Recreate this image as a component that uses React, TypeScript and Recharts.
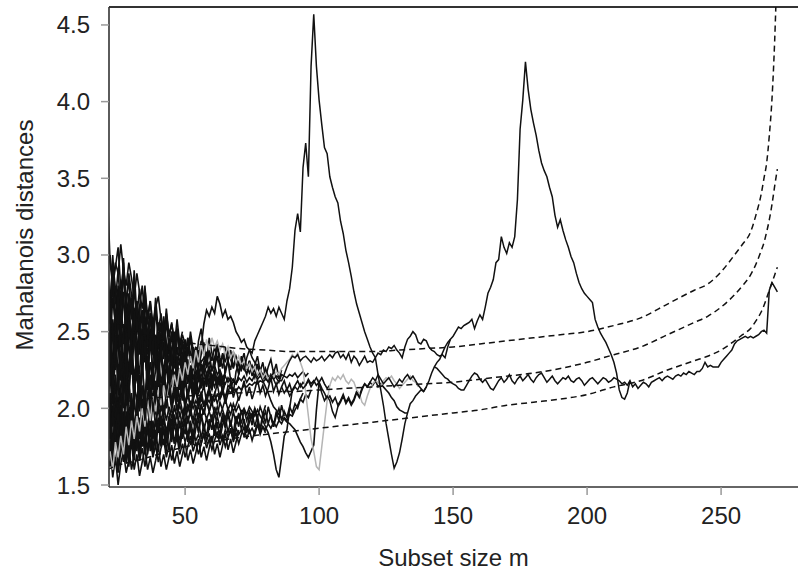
import React from "react";
import { LineChart, Line, XAxis, YAxis, ReferenceLine, Label } from "recharts";

// subset sizes start at m = 21 for every run that begins at the left edge
const M_START = 21;
const xTicks = [50, 100, 150, 200, 250];
const yTicks = [1.5, 2.0, 2.5, 3.0, 3.5, 4.0, 4.5];

// simulation envelopes (dashed)
const envM = [21, 25, 30, 40, 50, 60, 70, 80, 90, 100, 110, 120, 130, 140, 150, 160, 170, 180, 190, 200, 210, 220, 230, 240, 245, 250, 255, 258, 261, 263, 265, 266, 267, 268, 269, 270, 271];
const envLow = [1.6, 1.63, 1.65, 1.7, 1.75, 1.78, 1.81, 1.83, 1.85, 1.87, 1.89, 1.91, 1.93, 1.95, 1.97, 1.99, 2.02, 2.04, 2.06, 2.09, 2.14, 2.18, 2.25, 2.31, 2.34, 2.38, 2.44, 2.48, 2.52, 2.57, 2.63, 2.67, 2.72, 2.77, 2.82, 2.87, 2.92];
const envMid = [2.02, 2.04, 2.05, 2.07, 2.08, 2.09, 2.1, 2.11, 2.11, 2.12, 2.13, 2.14, 2.15, 2.16, 2.17, 2.19, 2.21, 2.23, 2.26, 2.3, 2.35, 2.4, 2.48, 2.56, 2.6, 2.66, 2.74, 2.8, 2.87, 2.94, 3.03, 3.08, 3.15, 3.23, 3.33, 3.45, 3.56];
const envHigh = [2.62, 2.55, 2.5, 2.46, 2.43, 2.41, 2.39, 2.38, 2.37, 2.37, 2.37, 2.37, 2.38, 2.39, 2.4, 2.42, 2.44, 2.46, 2.48, 2.5, 2.54, 2.59, 2.68, 2.77, 2.81, 2.89, 3.0, 3.07, 3.15, 3.26, 3.4, 3.5, 3.6, 3.78, 4.02, 4.4, 4.95];

// early runs of the search, all starting at m = 21
const run01 = [3.43, 2.95, 2.8, 2.92, 3.05, 2.78, 2.85, 2.7, 2.88, 2.74, 2.62, 2.7, 2.55, 2.64, 2.5, 2.58, 2.44, 2.52, 2.4, 2.47, 2.36, 2.42, 2.33, 2.38, 2.3, 2.35, 2.27, 2.31, 2.24, 2.28, 2.22, 2.26, 2.2, 2.24, 2.18, 2.22, 2.19, 2.21, 2.17, 2.2];
const run02 = [2.9, 3.0, 2.82, 2.95, 2.88, 3.07, 2.9, 2.8, 2.95, 2.85, 2.72, 2.88, 2.76, 2.65, 2.78, 2.6, 2.7, 2.55, 2.66, 2.73, 2.58, 2.5, 2.62, 2.48, 2.55, 2.45, 2.52, 2.4, 2.48, 2.42, 2.36, 2.44, 2.38, 2.31, 2.36, 2.3, 2.33, 2.27, 2.3, 2.25, 2.28, 2.22, 2.25, 2.2, 2.23];
const run03 = [2.75, 2.62, 2.85, 2.7, 2.58, 2.76, 2.92, 2.68, 2.55, 2.72, 2.6, 2.48, 2.66, 2.8, 2.58, 2.47, 2.62, 2.52, 2.4, 2.56, 2.45, 2.6, 2.42, 2.35, 2.5, 2.4, 2.48, 2.36, 2.44, 2.32, 2.4, 2.3, 2.36, 2.28, 2.33, 2.25, 2.3, 2.22, 2.27, 2.2, 2.24, 2.18, 2.22, 2.19, 2.21, 2.17, 2.2, 2.18, 2.16, 2.19];
const run04 = [2.55, 2.7, 2.48, 2.62, 2.78, 2.55, 2.42, 2.65, 2.5, 2.38, 2.58, 2.45, 2.35, 2.52, 2.4, 2.3, 2.46, 2.36, 2.28, 2.42, 2.33, 2.25, 2.38, 2.3, 2.22, 2.34, 2.26, 2.2, 2.3, 2.24, 2.18, 2.28, 2.21, 2.16, 2.25, 2.19, 2.14, 2.22, 2.17, 2.12, 2.2, 2.15, 2.18, 2.13, 2.17];
const run05 = [2.4, 2.25, 2.5, 2.35, 2.6, 2.42, 2.28, 2.55, 2.38, 2.22, 2.46, 2.62, 2.4, 2.3, 2.48, 2.35, 2.52, 2.38, 2.26, 2.44, 2.56, 2.4, 2.3, 2.46, 2.36, 2.5, 2.38, 2.28, 2.42, 2.34, 2.46, 2.36, 2.3, 2.4, 2.32, 2.44, 2.35, 2.28, 2.38, 2.31, 2.4, 2.33, 2.27, 2.36, 2.3, 2.38, 2.32, 2.26, 2.34, 2.29, 2.25, 2.31, 2.27, 2.23, 2.28, 2.24, 2.21, 2.25, 2.22, 2.19];
const run06 = [2.2, 2.38, 2.12, 2.3, 2.45, 2.18, 2.35, 2.08, 2.28, 2.42, 2.15, 2.32, 2.05, 2.25, 2.38, 2.12, 2.3, 2.2, 2.08, 2.26, 2.36, 2.14, 2.28, 2.1, 2.22, 2.34, 2.16, 2.26, 2.12, 2.24, 2.3, 2.14, 2.22, 2.1, 2.2, 2.28, 2.15, 2.22, 2.12, 2.19, 2.25, 2.14, 2.2, 2.1, 2.17];
const run07 = [2.05, 1.9, 2.18, 2.0, 2.25, 1.95, 2.12, 2.3, 2.02, 1.92, 2.15, 2.05, 2.22, 1.98, 2.1, 2.2, 1.95, 2.08, 2.18, 2.0, 2.12, 1.96, 2.06, 2.16, 2.02, 2.1, 1.98, 2.08, 2.14, 2.03, 2.1, 2.0, 2.07, 2.13, 2.04, 2.09, 2.01, 2.07, 2.12, 2.05];
const run08 = [1.85, 2.0, 1.78, 1.95, 2.08, 1.82, 1.98, 1.75, 1.92, 2.05, 1.85, 1.96, 1.8, 1.9, 2.02, 1.86, 1.95, 1.82, 1.92, 1.99, 1.88, 1.95, 1.85, 1.93, 2.0, 1.9, 1.96, 1.87, 1.94, 2.01, 1.92, 1.97, 1.9, 1.96, 2.02, 1.94, 1.99, 1.93, 1.98, 2.04, 1.96, 2.01, 1.95, 2.0, 2.06, 1.99, 2.03, 1.98, 2.02, 2.07];
const run09 = [1.7, 1.62, 1.78, 1.66, 1.58, 1.72, 1.82, 1.64, 1.75, 1.6, 1.7, 1.8, 1.66, 1.74, 1.62, 1.72, 1.8, 1.68, 1.76, 1.65, 1.74, 1.8, 1.68, 1.76, 1.66, 1.74, 1.81, 1.7, 1.77, 1.68, 1.75, 1.82, 1.72, 1.78, 1.7, 1.77, 1.83, 1.74, 1.8, 1.73, 1.79, 1.85, 1.76, 1.82, 1.75, 1.81, 1.87, 1.78, 1.84, 1.77, 1.83, 1.88, 1.8, 1.86, 1.79, 1.85, 1.9, 1.83, 1.88, 1.84];
const run10 = [1.62, 1.75, 1.55, 1.68, 1.5, 1.64, 1.72, 1.58, 1.66, 1.78, 1.6, 1.7, 1.56, 1.65, 1.74, 1.6, 1.68, 1.58, 1.66, 1.75, 1.62, 1.7, 1.6, 1.68, 1.76, 1.64, 1.72, 1.62, 1.7, 1.78, 1.66, 1.73, 1.64, 1.71, 1.8, 1.68, 1.75, 1.66, 1.74, 1.82, 1.7, 1.77, 1.68, 1.76, 1.84, 1.73, 1.8, 1.71, 1.78, 1.86];
const run11 = [2.6, 2.45, 2.72, 2.55, 2.4, 2.65, 2.5, 2.35, 2.58, 2.68, 2.45, 2.32, 2.55, 2.42, 2.3, 2.5, 2.6, 2.38, 2.48, 2.3, 2.45, 2.55, 2.36, 2.44, 2.28, 2.4, 2.5, 2.34, 2.42, 2.27, 2.38, 2.46, 2.32, 2.4, 2.26, 2.35, 2.43, 2.3, 2.37, 2.24, 2.33, 2.4, 2.28, 2.35, 2.23, 2.31, 2.38, 2.27, 2.33, 2.22, 2.3, 2.36, 2.25, 2.31, 2.21, 2.28, 2.34, 2.24, 2.3, 2.2, 2.27, 2.32, 2.23, 2.29, 2.19, 2.25];
const run12 = [2.15, 2.3, 2.05, 2.22, 1.98, 2.12, 2.28, 2.02, 2.18, 1.95, 2.1, 2.25, 2.0, 2.15, 1.96, 2.08, 2.22, 2.02, 2.14, 1.98, 2.1, 2.2, 2.04, 2.12, 1.99, 2.08, 2.18, 2.03, 2.11, 2.0, 2.09, 2.17, 2.05, 2.12, 2.01, 2.08, 2.15, 2.04, 2.11, 2.02, 2.09, 2.16, 2.06, 2.12, 2.03, 2.1, 2.17, 2.07, 2.13, 2.05, 2.11, 2.18, 2.08, 2.14, 2.06, 2.12, 2.19, 2.1, 2.15, 2.08, 2.13, 2.2, 2.11, 2.16, 2.09, 2.14, 2.18, 2.12, 2.16, 2.1];
const run13 = [1.92, 1.8, 2.02, 1.86, 1.74, 1.95, 2.08, 1.84, 1.96, 1.78, 1.9, 2.02, 1.82, 1.94, 1.76, 1.88, 1.98, 1.8, 1.92, 1.84, 1.95, 1.86, 1.78, 1.9, 1.82, 1.94, 1.85, 1.79, 1.91, 1.83, 1.95, 1.86, 1.8, 1.92, 1.85, 1.96, 1.88, 1.82, 1.93, 1.86, 1.97, 1.89, 1.83, 1.94, 1.87, 1.98, 1.9, 1.84, 1.95, 1.88, 1.99, 1.91, 1.85, 1.96, 1.89, 2.0, 1.92, 1.86, 1.97, 1.9, 2.01, 1.94, 1.88, 1.98, 1.92, 2.02, 1.95];
const run14 = [2.25, 2.4, 2.18, 2.32, 2.48, 2.22, 2.36, 2.14, 2.3, 2.42, 2.2, 2.34, 2.12, 2.28, 2.38, 2.18, 2.3, 2.12, 2.25, 2.35, 2.16, 2.28, 2.1, 2.24, 2.32, 2.15, 2.26, 2.12, 2.22, 2.3, 2.16, 2.25, 2.14, 2.22, 2.28, 2.4, 2.55, 2.64, 2.6, 2.66, 2.62, 2.73, 2.68, 2.6, 2.64, 2.58, 2.6, 2.56, 2.5, 2.47, 2.43, 2.45, 2.4, 2.38, 2.33, 2.3, 2.27, 2.22, 2.18, 2.14, 2.1, 2.05, 2.01, 1.99, 1.96, 1.94, 1.93, 1.91, 1.9, 1.88, 1.86, 1.82, 1.78, 1.75, 1.71, 1.68, 1.72, 1.76, 1.99, 2.17, 2.13, 2.1, 2.06, 2.08, 2.04, 2.07, 2.02, 2.05, 2.09, 2.04, 2.07, 2.03, 2.06, 2.11, 2.08, 2.13, 2.16, 2.14, 2.17, 2.15, 2.18, 2.14, 2.16, 2.14, 2.12, 2.1, 2.07, 2.05, 2.01, 1.99, 1.98, 1.97, 1.97];
const run15 = [2.0, 1.85, 2.1, 1.92, 1.78, 2.02, 1.88, 2.15, 1.95, 1.82, 2.05, 1.9, 2.12, 1.96, 1.84, 2.04, 1.92, 2.1, 1.98, 1.86, 2.03, 1.94, 2.08, 1.97, 1.88, 2.02, 1.93, 2.07, 1.98, 1.9, 2.03, 1.95, 2.06, 1.99, 1.91, 2.02, 1.96, 2.05, 1.98, 1.92, 2.01, 1.95, 2.04, 1.99, 1.93, 2.0, 1.96, 2.03, 1.98, 2.02, 1.97, 2.0, 1.96, 2.01, 1.98, 1.95, 1.99, 1.95, 1.92, 1.88, 1.84, 1.78, 1.7, 1.6, 1.55, 1.68, 1.82, 1.86, 2.0, 2.12, 2.15, 2.18, 2.14, 2.17, 2.15, 2.19, 2.16, 2.18, 2.15, 2.17, 2.2, 2.16, 2.13, 2.15];
const run16 = [2.85, 2.7, 2.95, 2.78, 2.62, 2.84, 2.7, 2.56, 2.75, 2.62, 2.5, 2.68, 2.55, 2.44, 2.6, 2.48, 2.38, 2.54, 2.42, 2.34, 2.48, 2.38, 2.3, 2.44, 2.34, 2.26, 2.4, 2.3, 2.24, 2.36, 2.28, 2.22, 2.32, 2.25, 2.2, 2.29, 2.23, 2.18, 2.26, 2.21];
const run17 = [2.35, 2.5, 2.28, 2.62, 2.4, 2.25, 2.55, 2.38, 2.2, 2.48, 2.65, 2.35, 2.22, 2.52, 2.38, 2.18, 2.45, 2.58, 2.32, 2.2, 2.42, 2.5, 2.28, 2.16, 2.38, 2.47, 2.26, 2.15, 2.35, 2.44, 2.24, 2.14, 2.32, 2.4, 2.22, 2.13, 2.3, 2.37, 2.2, 2.12, 2.28, 2.34, 2.19, 2.11, 2.26, 2.31, 2.18, 2.1, 2.24, 2.29];
const run18 = [1.78, 1.95, 1.7, 1.88, 2.02, 1.76, 1.9, 1.68, 1.85, 1.98, 1.74, 1.88, 1.66, 1.82, 1.95, 1.72, 1.86, 1.7, 1.84, 1.94, 1.75, 1.87, 1.72, 1.85, 1.93, 1.77, 1.88, 1.74, 1.86, 1.92, 1.78, 1.89, 1.76, 1.87, 1.93, 1.8, 1.9, 1.78, 1.88, 1.94, 1.82, 1.91, 1.8, 1.89, 1.95, 1.84, 1.92, 1.82, 1.9, 1.96, 1.86, 1.93, 1.84, 1.91, 1.97, 1.88, 1.95, 1.86, 1.93, 1.98, 1.9, 1.96, 1.88, 1.95, 2.0, 1.92, 1.98, 1.94, 2.01, 1.97, 2.03, 2.0, 2.06, 2.04, 2.09, 2.07, 2.12];
const run19 = [2.48, 2.3, 2.58, 2.4, 2.68, 2.45, 2.3, 2.6, 2.42, 2.28, 2.52, 2.7, 2.44, 2.32, 2.55, 2.4, 2.62, 2.45, 2.3, 2.5, 2.38, 2.56, 2.42, 2.3, 2.48, 2.36, 2.52, 2.4, 2.28, 2.45, 2.34, 2.5, 2.38, 2.28, 2.44, 2.52, 2.38, 2.3, 2.46, 2.36, 2.28, 2.42, 2.33, 2.26, 2.4, 2.31, 2.25, 2.37, 2.29, 2.23, 2.34, 2.27, 2.22, 2.31, 2.25, 2.2, 2.29, 2.23, 2.19, 2.26, 2.21, 2.18, 2.24, 2.2, 2.17, 2.22];
const run20 = [2.95, 2.6, 2.88, 2.52, 2.8, 2.45, 2.76, 2.4, 2.7, 2.36, 2.64, 2.3, 2.6, 2.28, 2.55, 2.25, 2.5, 2.22, 2.46, 2.2, 2.44, 2.18, 2.4, 2.16, 2.36, 2.15, 2.33, 2.14, 2.3, 2.16];
const run21 = [2.3, 2.7, 2.2, 2.62, 2.15, 2.58, 2.1, 2.5, 2.05, 2.45, 2.0, 2.4, 1.98, 2.35, 1.96, 2.3, 1.95, 2.28, 1.96, 2.25, 1.98, 2.24, 2.0, 2.22, 2.02, 2.2, 2.04, 2.19, 2.05, 2.18, 2.06, 2.17, 2.08, 2.16, 2.1, 2.15];
const run22 = [1.75, 2.1, 1.7, 2.05, 1.68, 2.0, 1.66, 1.98, 1.68, 1.95, 1.7, 1.94, 1.72, 1.92, 1.74, 1.9, 1.75, 1.92, 1.78, 1.9, 1.8, 1.93, 1.82, 1.95, 1.84, 1.96, 1.86, 1.98, 1.88, 1.99, 1.9, 2.0, 1.92, 2.02, 1.94, 2.03, 1.96, 2.05, 1.98, 2.06];
const run23 = [2.65, 2.35, 2.85, 2.5, 2.75, 2.4, 2.95, 2.55, 2.7, 2.42, 2.82, 2.5, 2.65, 2.38, 2.72, 2.45, 2.6, 2.35, 2.66, 2.42, 2.55, 2.32, 2.58, 2.38, 2.5, 2.3, 2.52, 2.34, 2.45, 2.28, 2.46, 2.3, 2.4, 2.26, 2.38, 2.27];
const run24 = [1.95, 2.25, 1.88, 2.2, 1.82, 2.15, 1.8, 2.12, 1.78, 2.1, 1.8, 2.08, 1.82, 2.06, 1.84, 2.05, 1.86, 2.04, 1.88, 2.03, 1.9, 2.02, 1.92, 2.01, 1.94, 2.0, 1.95, 2.02, 1.96, 2.03, 1.98, 2.04, 2.0, 2.05, 2.01, 2.06, 2.02, 2.07, 2.04, 2.08, 2.05, 2.09, 2.06, 2.1, 2.08, 2.12, 2.1, 2.13, 2.11, 2.14, 2.12, 2.15, 2.14, 2.16, 2.15, 2.17, 2.16, 2.18, 2.17, 2.19, 2.18, 2.2];
const run25 = [2.8, 2.55, 3.0, 2.7, 2.9, 2.62, 2.98, 2.66, 2.85, 2.58, 2.9, 2.6, 2.78, 2.52, 2.8, 2.55, 2.7, 2.48, 2.72, 2.5, 2.62, 2.44, 2.65, 2.46, 2.56, 2.4, 2.58, 2.42, 2.5];
const run26 = [1.68, 1.9, 1.62, 1.85, 1.6, 1.8, 1.65, 1.88, 1.62, 1.82, 1.66, 1.86, 1.68, 1.84, 1.7, 1.88, 1.72, 1.86, 1.74, 1.9, 1.76, 1.88, 1.77, 1.91, 1.78, 1.9, 1.8, 1.92, 1.8, 1.93, 1.82, 1.92, 1.83, 1.94, 1.84, 1.95, 1.85, 1.94, 1.86, 1.96, 1.86, 1.95, 1.87, 1.97, 1.88, 1.96, 1.88, 1.98, 1.9, 1.97, 1.9, 1.99, 1.92, 1.98, 1.93, 2.0, 1.94, 2.01, 1.96, 2.02];
const run27 = [2.45, 2.15, 2.55, 2.25, 2.62, 2.3, 2.5, 2.2, 2.58, 2.28, 2.48, 2.18, 2.52, 2.24, 2.44, 2.16, 2.46, 2.2, 2.4, 2.14, 2.42, 2.18, 2.36, 2.12, 2.38, 2.15, 2.34, 2.12, 2.35, 2.14, 2.32, 2.13, 2.3, 2.14, 2.28, 2.15, 2.27, 2.14, 2.26, 2.15, 2.24, 2.16, 2.23, 2.15, 2.22];
const run28 = [2.05, 2.4, 2.12, 2.48, 2.08, 2.35, 2.0, 2.42, 2.1, 2.32, 2.04, 2.38, 2.08, 2.3, 2.02, 2.34, 2.06, 2.28, 2.04, 2.3, 2.08, 2.26, 2.05, 2.28, 2.1, 2.24, 2.07, 2.25, 2.1, 2.22, 2.08, 2.23, 2.11, 2.21, 2.1, 2.2, 2.12, 2.2, 2.13, 2.19, 2.14, 2.2, 2.15, 2.18, 2.16, 2.2, 2.17, 2.19, 2.16, 2.2, 2.18, 2.21, 2.17, 2.2, 2.18, 2.22, 2.19, 2.21, 2.2, 2.23, 2.2, 2.22, 2.19, 2.21, 2.2, 2.22, 2.21, 2.2, 2.22, 2.21, 2.23, 2.2, 2.22, 2.24, 2.21, 2.23];
const run29 = [1.88, 1.72, 1.98, 1.78, 2.05, 1.8, 1.92, 1.7, 1.96, 1.76, 1.9, 1.72, 1.94, 1.75, 1.88, 1.7, 1.9, 1.74, 1.86, 1.72, 1.88, 1.76, 1.85, 1.73, 1.87, 1.77, 1.84, 1.75, 1.86, 1.78, 1.84, 1.76, 1.85, 1.79, 1.83, 1.77, 1.84, 1.8, 1.83, 1.78, 1.85, 1.81, 1.84, 1.79, 1.86, 1.82, 1.85, 1.8, 1.87, 1.83, 1.86, 1.82, 1.88, 1.84, 1.87, 1.83, 1.89, 1.85, 1.88, 1.86, 1.9, 1.87, 1.91, 1.88, 1.92, 1.9, 1.94, 1.92, 1.96, 1.95, 1.99, 2.02, 2.06, 2.1];

// the grey run
const grey01 = [1.65, 1.72, 1.6, 1.78, 1.68, 1.82, 1.7, 1.88, 1.76, 1.92, 1.8, 1.95, 1.85, 2.0, 1.88, 2.05, 1.92, 2.08, 1.98, 2.12, 2.02, 2.15, 2.06, 2.18, 2.1, 2.22, 2.14, 2.26, 2.18, 2.3, 2.22, 2.34, 2.26, 2.38, 2.3, 2.42, 2.34, 2.45, 2.38, 2.46, 2.4, 2.44, 2.38, 2.42, 2.35, 2.4, 2.33, 2.37, 2.3, 2.34, 2.28, 2.31, 2.26, 2.29, 2.24, 2.27, 2.22, 2.25, 2.2, 2.23, 2.19, 2.22, 2.2, 2.24, 2.22, 2.26, 2.28, 2.3, 2.32, 2.35, 2.33, 2.36, 2.3, 2.25, 2.1, 1.95, 1.8, 1.72, 1.62, 1.6, 1.75, 1.9, 2.05, 2.15, 2.2, 2.18, 2.21, 2.19, 2.22, 2.18, 2.16, 2.19, 2.17, 2.12, 2.1, 2.04, 2.02, 2.08, 2.13, 2.16, 2.18, 2.17, 2.15, 2.18, 2.2, 2.19, 2.21, 2.18, 2.16, 2.13, 2.15, 2.17, 2.19, 2.21, 2.18, 2.17, 2.14];

// run with the two peaks (m = 21 .. 216)
const runA = [2.1, 1.95, 2.22, 2.05, 1.9, 2.15, 2.3, 2.02, 2.18, 1.94, 2.1, 2.24, 2.0, 2.14, 1.92, 2.08, 2.2, 1.98, 2.12, 2.02, 2.16, 1.96, 2.1, 2.2, 2.04, 2.14, 1.99, 2.08, 2.18, 2.03, 2.12, 2.0, 2.09, 2.16, 2.04, 2.11, 2.02, 2.08, 2.14, 2.05, 2.1, 2.03, 2.09, 2.13, 2.06,
  2.15, 2.13, 2.18, 2.16, 2.22, 2.28, 2.25, 2.33, 2.38, 2.36, 2.44, 2.48, 2.52, 2.56, 2.6, 2.66, 2.62, 2.65, 2.6, 2.66, 2.62, 2.58, 2.7, 2.78, 2.92,
  3.16, 3.27, 3.15, 3.57, 3.73, 3.51, 4.23, 4.57, 4.23, 4.01, 3.85, 3.7, 3.66, 3.51, 3.44, 3.38, 3.34, 3.22, 3.14, 3.03,
  2.95, 2.86, 2.76, 2.68, 2.62, 2.56, 2.5, 2.45, 2.4, 2.36, 2.33, 2.22, 2.12, 2.02, 1.9, 1.8, 1.7, 1.61, 1.65, 1.71,
  1.8, 1.9, 1.97, 2.03, 2.05, 2.08, 2.1, 2.12, 2.11, 2.14, 2.18, 2.23, 2.27, 2.3, 2.32, 2.36, 2.4, 2.43, 2.45, 2.47,
  2.5, 2.53, 2.52, 2.54, 2.55, 2.56, 2.58, 2.52, 2.57, 2.61, 2.58, 2.66, 2.75, 2.79, 2.84, 2.95, 2.97, 3.12, 3.05, 3.01,
  3.08, 3.05, 3.12, 3.36, 3.82, 4.01, 4.26, 4.08, 3.95, 3.86, 3.78, 3.68, 3.6, 3.55, 3.51, 3.44, 3.38, 3.26, 3.18, 3.23,
  3.16, 3.1, 3.05, 2.99, 2.95, 2.88, 2.82, 2.78, 2.75, 2.73, 2.71, 2.69, 2.58, 2.53, 2.49, 2.46, 2.43, 2.39, 2.35, 2.3,
  2.23, 2.12, 2.07, 2.06, 2.1, 2.18];

// run that stays flat and carries on to the end (m = 143 .. 271)
const runB = [2.27, 2.26, 2.24, 2.22, 2.2, 2.19, 2.17, 2.16, 2.15, 2.13, 2.12, 2.12, 2.15, 2.18, 2.21, 2.23, 2.22, 2.19,
  2.17, 2.19, 2.16, 2.13, 2.12, 2.15, 2.18, 2.2, 2.17, 2.19, 2.22, 2.18, 2.16, 2.19, 2.21, 2.18, 2.2, 2.22, 2.19, 2.17,
  2.2, 2.22, 2.23, 2.2, 2.17, 2.19, 2.21, 2.18, 2.16, 2.18, 2.2, 2.19, 2.21, 2.18, 2.17, 2.19, 2.2, 2.18, 2.15, 2.17,
  2.19, 2.2, 2.18, 2.16, 2.18, 2.2, 2.19, 2.17, 2.18, 2.2, 2.19, 2.18, 2.16, 2.17, 2.15, 2.18, 2.14, 2.16, 2.13, 2.15,
  2.17, 2.16, 2.14, 2.17, 2.18, 2.19, 2.2, 2.18, 2.2, 2.21, 2.2, 2.19, 2.21, 2.22, 2.21, 2.23, 2.22, 2.24, 2.23, 2.22,
  2.24, 2.24, 2.26, 2.3, 2.27, 2.28, 2.27, 2.27, 2.27, 2.3, 2.32, 2.34, 2.36, 2.38, 2.42, 2.44, 2.45, 2.46, 2.47, 2.46,
  2.47, 2.46, 2.47, 2.48, 2.5, 2.51, 2.49, 2.77, 2.82, 2.79, 2.76];

// run around 2.3-2.5 (m = 80 .. 149)
const runC = [2.2, 2.17, 2.22, 2.19, 2.15, 2.18, 2.18, 2.22, 2.27, 2.31, 2.34, 2.33, 2.35, 2.31, 2.33, 2.34, 2.32, 2.3, 2.33, 2.31,
  2.32, 2.34, 2.31, 2.33, 2.35, 2.33, 2.36, 2.37, 2.33, 2.35, 2.32, 2.36, 2.3, 2.34, 2.32, 2.28, 2.31, 2.34, 2.3, 2.31,
  2.3, 2.33, 2.36, 2.35, 2.38, 2.37, 2.4, 2.39, 2.41, 2.38, 2.36, 2.33, 2.4, 2.45, 2.47, 2.5, 2.48, 2.43, 2.42, 2.45,
  2.44, 2.4, 2.38, 2.37, 2.35, 2.34, 2.35, 2.33, 2.4, 2.45];

// run around 2.0-2.2 (m = 86 .. 140)
const runD = [2.14, 2.1, 2.13, 2.08, 2.11, 2.14, 2.12, 2.16, 2.13, 2.15, 2.18, 2.14, 2.17, 2.2, 2.16, 2.1, 2.05, 2.08, 2.05, 1.98,
  1.94, 2.01, 2.04, 2.08, 2.03, 2.06, 2.02, 2.05, 2.1, 2.07, 2.12, 2.16, 2.14, 2.17, 2.2, 2.18, 2.22, 2.19, 2.16, 2.18,
  2.2, 2.17, 2.14, 2.16, 2.19, 2.17, 2.2, 2.22, 2.19, 2.21, 2.18, 2.15, 2.13, 2.11, 2.14];

const toPoints = (start: number, vals: number[]) => vals.map((d, i) => ({ m: start + i, d }));

const bundle = [
  run01, run02, run03, run04, run05, run06, run07, run08, run09, run10,
  run11, run12, run13, run14, run15, run16, run17, run18, run19, run20,
  run21, run22, run23, run24, run25, run26, run27, run28, run29,
];

const X_DOMAIN: [number, number] = [21.6, 278.7];
const Y_DOMAIN: [number, number] = [1.487, 4.617];
const FONT = "'Liberation Sans', Arial, Helvetica, sans-serif";
const INK = "#111";

export default function App() {
  return (
    <div style={{ position: "absolute", left: 0, top: 0, width: 798, height: 574, background: "#fff" }}>
      <LineChart width={798} height={574} margin={{ top: 7, right: 0, bottom: 0, left: 0 }} style={{ fontFamily: FONT }}>
        <XAxis
          dataKey="m"
          type="number"
          domain={X_DOMAIN}
          allowDataOverflow
          ticks={xTicks}
          interval={0}
          height={87}
          tickSize={8}
          tickMargin={12}
          tick={{ fontSize: 24, fill: "#222", fontFamily: FONT }}
          tickLine={{ stroke: "#999", strokeWidth: 1.5 }}
          axisLine={{ stroke: "#333", strokeWidth: 1.6 }}
          label={{ value: "Subset size m", position: "insideBottom", offset: 8, fontSize: 24, fill: "#222", fontFamily: FONT }}
        />
        <YAxis
          type="number"
          domain={Y_DOMAIN}
          allowDataOverflow
          ticks={yTicks}
          interval={0}
          width={109}
          tickSize={8}
          tickMargin={11}
          tickFormatter={(v: number) => v.toFixed(1)}
          tick={{ fontSize: 24, fill: "#222", fontFamily: FONT }}
          tickLine={{ stroke: "#999", strokeWidth: 1.5 }}
          axisLine={{ stroke: "#333", strokeWidth: 1.6 }}
        >
          <Label
            content={() => (
              <text x={33} y={235} transform="rotate(-90 33 235)" textAnchor="middle" fontSize={24} fill="#222" fontFamily={FONT}>
                Mahalanois distances
              </text>
            )}
          />
        </YAxis>
        <ReferenceLine y={Y_DOMAIN[1]} stroke="#333" strokeWidth={1.8} ifOverflow="visible" />

        {bundle.map((r, i) => (
          <Line key={"b" + i} data={toPoints(M_START, r)} dataKey="d" type="linear" dot={false} stroke={INK} strokeWidth={1.6} isAnimationActive={false} />
        ))}
        <Line data={toPoints(M_START, grey01)} dataKey="d" type="linear" dot={false} stroke="#b5b5b5" strokeWidth={1.5} isAnimationActive={false} />
        <Line data={toPoints(86, runD)} dataKey="d" type="linear" dot={false} stroke={INK} strokeWidth={1.5} isAnimationActive={false} />
        <Line data={toPoints(80, runC)} dataKey="d" type="linear" dot={false} stroke={INK} strokeWidth={1.5} isAnimationActive={false} />
        <Line data={toPoints(143, runB)} dataKey="d" type="linear" dot={false} stroke={INK} strokeWidth={1.5} isAnimationActive={false} />
        <Line data={toPoints(M_START, runA)} dataKey="d" type="linear" dot={false} stroke={INK} strokeWidth={1.5} isAnimationActive={false} />

        {[envLow, envMid, envHigh].map((band, i) => (
          <Line
            key={"env" + i}
            data={envM.map((m, j) => ({ m, d: band[j] }))}
            dataKey="d"
            type="monotone"
            dot={false}
            stroke={INK}
            strokeWidth={1.5}
            strokeDasharray="6 4"
            isAnimationActive={false}
          />
        ))}
      </LineChart>
    </div>
  );
}
